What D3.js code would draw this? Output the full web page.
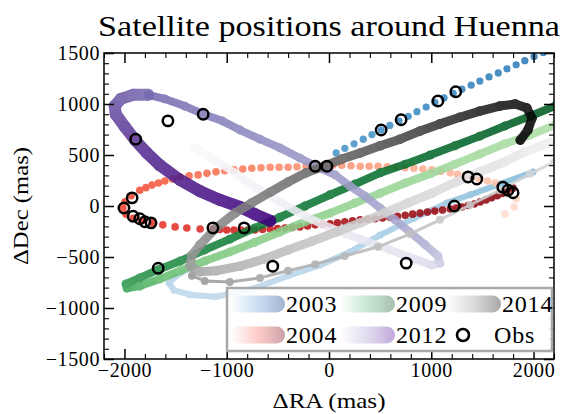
<!DOCTYPE html>
<html><head><meta charset="utf-8">
<script src="https://cdn.jsdelivr.net/npm/d3@7"></script>
<style>body{margin:0;background:#fff}svg{display:block}</style>
</head><body><svg id="c" width="562" height="414" style="font-family:Liberation Serif"></svg>
<script>
// ---------------- data (mas) ----------------
const xTicks = [-2000, -1000, 0, 1000, 2000];
const yTicks = [-1500, -1000, -500, 0, 500, 1000, 1500];
const legendLabels = ["2003", "2009", "2014", "2004", "2012", "Obs"];

// each point: [dRA, dDec, time fraction]
const track2003a = [[1995,333,.45],[1670,215,.43],[1380,110,.41],[1155,30,.39],[830,-120,.36],[500,-285,.34],[205,-450,.32],[-90,-580,.3],[-400,-685,.29],[-755,-815,.28],[-1105,-890,.27],[-1360,-870,.27],[-1515,-825,.28],[-1565,-755,.29],[-1495,-685,.3],[-1360,-610,.31]];
const track2003b = [[70,520,.6],[155,565,.61],[245,610,.61],[335,655,.62],[420,700,.62],[510,745,.63],[595,790,.63],[685,835,.64],[775,880,.64],[860,925,.65],[950,970,.65],[1035,1015,.66],[1125,1060,.66],[1215,1105,.67],[1300,1145,.67],[1390,1185,.68],[1475,1225,.68],[1565,1265,.69],[1655,1305,.69],[1740,1345,.7],[1830,1385,.7],[1915,1425,.71],[2005,1465,.71],[2095,1505,.72]];
const track2004 = [[1720,-80,.12],[1810,-10,.14],[1830,70,.16],[1770,155,.19],[1625,225,.22],[1550,245,.23],[1475,265,.24],[1403,280,.25],[1330,295,.26],[1258,310,.265],[1185,325,.27],[1095,340,.275],[1005,355,.28],[918,363,.29],[830,370,.3],[743,375,.31],[655,380,.32],[568,385,.33],[480,390,.34],[393,390,.345],[305,390,.35],[215,395,.355],[125,400,.36],[38,400,.365],[-50,400,.37],[-138,395,.375],[-225,390,.38],[-313,385,.385],[-400,380,.39],[-488,380,.4],[-575,380,.41],[-665,375,.42],[-755,370,.43],[-843,363,.44],[-930,355,.45],[-1018,345,.46],[-1105,335,.47],[-1193,320,.48],[-1280,305,.49],[-1368,295,.5],[-1455,285,.51],[-1530,265,.52],[-1605,245,.53],[-1668,225,.54],[-1730,205,.55],[-1790,180,.56],[-1850,155,.57],[-1935,100,.58],[-1995,40,.59],[-2015,-20,.6],[-1985,-80,.61],[-1915,-120,.62],[-1830,-145,.63],[-1730,-165,.64],[-1625,-185,.65],[-1505,-205,.66],[-1390,-215,.67],[-1260,-225,.68],[-1135,-225,.69],[-1068,-230,.7],[-1000,-235,.71],[-930,-235,.72],[-860,-235,.73],[-793,-235,.74],[-725,-235,.75],[-650,-230,.76],[-575,-225,.77],[-503,-220,.78],[-430,-215,.79],[-358,-210,.8],[-285,-205,.81],[-210,-195,.82],[-135,-185,.83],[-63,-180,.84],[10,-175,.85],[83,-165,.855],[155,-155,.86],[230,-145,.865],[305,-135,.87],[378,-130,.875],[450,-125,.88],[523,-118,.88],[595,-110,.885],[670,-100,.885],[745,-90,.89],[818,-80,.89],[890,-70,.89],[963,-60,.895],[1035,-50,.895],[1110,-40,.9],[1185,-30,.9],[1243,-20,.9],[1300,-10,.905],[1360,5,.905],[1420,20,.91],[1478,40,.91],[1535,60,.915],[1590,80,.92],[1645,100,.925],[1693,123,.93],[1740,145,.935],[1800,175,.94]];
const track2009 = [[2210,795,.33],[1965,695,.34],[1720,610,.35],[1475,510,.36],[1230,410,.37],[990,315,.38],[745,225,.39],[500,125,.4],[255,30,.41],[10,-70,.42],[-235,-155,.43],[-480,-255,.44],[-725,-355,.45],[-970,-450,.46],[-1215,-540,.48],[-1455,-635,.5],[-1655,-715,.55],[-1850,-785,.6],[-1975,-805,.65],[-1985,-765,.7],[-1850,-705,.72],[-1670,-625,.74],[-1455,-540,.76],[-1215,-430,.78],[-970,-325,.8],[-725,-215,.81],[-480,-110,.82],[-235,0,.83],[10,110,.84],[255,215,.85],[500,325,.86],[745,410,.87],[990,500,.88],[1230,590,.89],[1475,685,.9],[1720,785,.91],[1965,880,.92],[2210,980,.93]];
const track2012a = [[-1320,580,.02],[-1115,450,.04],[-920,325,.06],[-725,185,.08],[-480,40,.1],[-235,-100,.12],[10,-215,.14],[305,-325,.16],[595,-430,.18],[840,-520,.2],[1005,-580,.24],[1085,-560,.3],[1065,-490,.36],[940,-380,.42],[790,-255,.44],[645,-135,.46],[500,-20,.47],[350,100,.48],[205,195,.49],[60,305,.5],[-110,380,.51],[-285,470,.52],[-480,570,.54],[-675,655,.56],[-870,745,.58],[-1045,835,.6],[-1230,900,.62],[-1410,980,.64],[-1605,1050,.66],[-1770,1090,.68]];
const track2012b = [[-1770,1090,.68],[-1915,1090,.7],[-2035,1050,.72],[-2095,980,.74],[-2085,900,.76],[-1995,775,.8],[-1895,645,.83],[-1780,520,.86],[-1655,400,.88],[-1455,255,.9],[-1260,145,.92],[-1065,60,.94],[-870,-10,.96],[-725,-80,.98],[-575,-145,1.0]];
const track2014a = [[2160,625,.12],[1915,530,.15],[1710,430,.18],[1475,335,.2],[1240,235,.22],[1005,125,.24],[775,30,.26],[540,-70,.28],[305,-165,.3],[70,-255,.32],[-165,-345,.34],[-400,-430,.36],[-635,-520,.38],[-870,-590,.4],[-1105,-635,.42],[-1260,-645,.45],[-1360,-590,.48],[-1340,-480,.5],[-1260,-380,.52],[-1105,-215,.55],[-920,-70,.57],[-755,30,.59],[-575,135,.61],[-400,235,.63],[-225,325,.65],[-50,390,.67],[125,460,.69],[305,520,.71],[500,590,.74],[695,655,.77],[890,735,.8],[1085,805,.83],[1280,870,.86],[1475,930,.89],[1670,980,.92],[1820,1000,.94],[1935,960,.96],[1985,860,.98],[1945,745,.99],[1870,645,1.0]];
const track2014b = [[2200,430,.25],[1965,315,.27],[1670,155,.29],[1380,10,.31],[1085,-135,.33],[790,-275,.35],[480,-400,.37],[155,-490,.39],[-135,-570,.41],[-400,-635,.43],[-675,-705,.45],[-970,-745,.47],[-1215,-735,.49],[-1340,-685,.5]];
const obsRA  = [-1890,-1575,-1230,-2005,-1925,-1915,-1850,-1800,-1740,-1135,-830,-1670,-550,-135,-20,755,510,705,1065,1240,1360,1445,1700,1750,1800,1225];
const obsDec = [655,835,900,-20,80,-100,-125,-155,-165,-215,-215,-610,-590,390,390,-560,745,845,1030,1120,285,265,185,155,130,0];

// ---------------- styles ----------------
const tracks = [
  {data: track2003a, cmap: d3.interpolateBlues,  w: 6, r: 3.5},
  {data: track2003b, cmap: d3.interpolateBlues,  w: 0, r: 3.6},
  {data: track2004,  cmap: d3.interpolateReds,   w: 0, r: 3.8},
  {data: track2009,  cmap: d3.interpolateGreens, w: 8, r: 4.5},
  {data: track2012a, cmap: d3.interpolatePurples,w: 8, r: 4.4},
  {data: track2012b, cmap: d3.interpolatePurples,w: 12, r: 6},
  {data: track2014b, cmap: d3.interpolateGreys,  w: 3, r: 4},
  {data: track2014a, cmap: d3.interpolateGreys,  w: 9, r: 4.8}
];
const legendStyle = [
  {mid: "#b9d5ee", end: "#a3b1cf"},
  {mid: "#b4dfc3", end: "#a6bfae"},
  {mid: "#cfcfcf", end: "#a6a6a6"},
  {mid: "#fbbcb6", end: "#c9a0a8"},
  {mid: "#d6cfea", end: "#c0a6d8"}
];
const fontStyle = (size, ls) => `font-family:Liberation Serif;font-size:${size}px` + (ls ? `;letter-spacing:${ls}px` : "");

// ---------------- layout ----------------
const L = 104, R = 554, T = 53, B = 359;
const x = d3.scaleLinear().domain([-2200, 2200]).range([L, R]);
const y = d3.scaleLinear().domain([-1500, 1500]).range([B, T]);
const svg = d3.select("#c");
svg.append("rect").attr("width", 562).attr("height", 414).attr("fill", "#fff");

const defs = svg.append("defs");
defs.append("clipPath").attr("id", "clip").append("rect")
  .attr("x", L).attr("y", T).attr("width", R - L).attr("height", B - T);

// tracks
const plot = svg.append("g").attr("clip-path", "url(#clip)");
tracks.forEach(tr => {
  const g = plot.append("g").attr("opacity", 0.88);
  const d = tr.data;
  if (tr.w > 0) {
    g.selectAll("line").data(d3.pairs(d)).join("line")
      .attr("x1", p => x(p[0][0])).attr("y1", p => y(p[0][1]))
      .attr("x2", p => x(p[1][0])).attr("y2", p => y(p[1][1]))
      .attr("stroke", p => tr.cmap((p[0][2] + p[1][2]) / 2))
      .attr("stroke-width", tr.w).attr("stroke-linecap", "round");
  }
  g.selectAll("circle").data(d).join("circle")
    .attr("cx", p => x(p[0])).attr("cy", p => y(p[1])).attr("r", tr.r)
    .attr("fill", p => tr.cmap(p[2]));
});
// observations
plot.append("g").selectAll("circle").data(obsRA.map((v, i) => [v, obsDec[i]])).join("circle")
  .attr("cx", p => x(p[0])).attr("cy", p => y(p[1])).attr("r", 5.2)
  .attr("fill", "none").attr("stroke", "#000").attr("stroke-width", 2.5);

// ---------------- axes ----------------
const fmt = d3.format("d");
const xMinor = d3.range(-2200, 2201, 200).filter(v => !xTicks.includes(v));
const yMinor = d3.range(-1500, 1501, 100).filter(v => !yTicks.includes(v));
function styleAxis(g, major) {
  g.attr("font-family", null).attr("font-size", null);
  g.select(".domain").remove();
  g.selectAll("line").attr("stroke", "#000").attr("stroke-width", major ? 1.5 : 1.1);
  g.selectAll("text").attr("fill", "#000").attr("style", fontStyle(20, 0.6));
}
svg.append("g").attr("transform", `translate(0,${B})`)
  .call(d3.axisBottom(x).tickValues(xTicks).tickSize(-10).tickPadding(4).tickFormat(fmt)).call(g => styleAxis(g, true));
svg.append("g").attr("transform", `translate(0,${B})`)
  .call(d3.axisBottom(x).tickValues(xMinor).tickSize(-5).tickFormat("")).call(g => styleAxis(g, false));
svg.append("g").attr("transform", `translate(0,${T})`)
  .call(d3.axisTop(x).tickValues(xTicks).tickSize(-10).tickFormat("")).call(g => styleAxis(g, true));
svg.append("g").attr("transform", `translate(0,${T})`)
  .call(d3.axisTop(x).tickValues(xMinor).tickSize(-5).tickFormat("")).call(g => styleAxis(g, false));
svg.append("g").attr("transform", `translate(${L},0)`)
  .call(d3.axisLeft(y).tickValues(yTicks).tickSize(-10).tickPadding(4).tickFormat(fmt)).call(g => styleAxis(g, true));
svg.append("g").attr("transform", `translate(${L},0)`)
  .call(d3.axisLeft(y).tickValues(yMinor).tickSize(-5).tickFormat("")).call(g => styleAxis(g, false));
svg.append("g").attr("transform", `translate(${R},0)`)
  .call(d3.axisRight(y).tickValues(yTicks).tickSize(-10).tickFormat("")).call(g => styleAxis(g, true));
svg.append("g").attr("transform", `translate(${R},0)`)
  .call(d3.axisRight(y).tickValues(yMinor).tickSize(-5).tickFormat("")).call(g => styleAxis(g, false));
svg.append("rect").attr("x", L).attr("y", T).attr("width", R - L).attr("height", B - T)
  .attr("fill", "none").attr("stroke", "#000").attr("stroke-width", 1.5);

// ---------------- legend ----------------
const lg = svg.append("g");
lg.append("rect").attr("x", 227).attr("y", 288).attr("width", 325).attr("height", 63)
  .attr("fill", "#fff").attr("fill-opacity", 0.85).attr("stroke", "#a8a8a8").attr("stroke-width", 2.5);
const colX = [230, 340, 446], rowY = [304, 335];
legendLabels.forEach((lab, i) => {
  const cx = colX[i % 3], cy = rowY[Math.floor(i / 3)];
  if (i < 5) {
    const st = legendStyle[i];
    const grad = defs.append("linearGradient").attr("id", "lgrad" + i);
    grad.append("stop").attr("offset", "0%").attr("stop-color", st.mid).attr("stop-opacity", 0);
    grad.append("stop").attr("offset", "50%").attr("stop-color", st.mid).attr("stop-opacity", 0.75);
    grad.append("stop").attr("offset", "100%").attr("stop-color", st.end).attr("stop-opacity", 1);
    lg.append("rect").attr("x", cx).attr("y", cy - 8.5).attr("width", 55).attr("height", 17)
      .attr("rx", 8.5).attr("fill", `url(#lgrad${i})`);
    lg.append("text").attr("x", cx + 56).attr("y", cy + 8).attr("style", fontStyle(24, 0.8)).text(lab);
  } else {
    lg.append("circle").attr("cx", cx + 17).attr("cy", cy).attr("r", 6)
      .attr("fill", "none").attr("stroke", "#000").attr("stroke-width", 2.6);
    lg.append("text").attr("x", cx + 48).attr("y", cy + 8).attr("style", fontStyle(24, 0.8)).text(lab);
  }
});

// ---------------- titles ----------------
svg.append("text").attr("x", 329).attr("y", 36).attr("text-anchor", "middle")
  .attr("style", fontStyle(29)).attr("textLength", 462).attr("lengthAdjust", "spacingAndGlyphs")
  .text("Satellite positions around Huenna");
svg.append("text").attr("x", 329).attr("y", 408).attr("text-anchor", "middle")
  .attr("style", fontStyle(21)).attr("textLength", 113).attr("lengthAdjust", "spacingAndGlyphs")
  .text("ΔRA (mas)");
svg.append("text").attr("transform", "translate(28,206) rotate(-90)").attr("text-anchor", "middle")
  .attr("style", fontStyle(21)).attr("textLength", 118).attr("lengthAdjust", "spacingAndGlyphs")
  .text("ΔDec (mas)");
</script></body></html>
